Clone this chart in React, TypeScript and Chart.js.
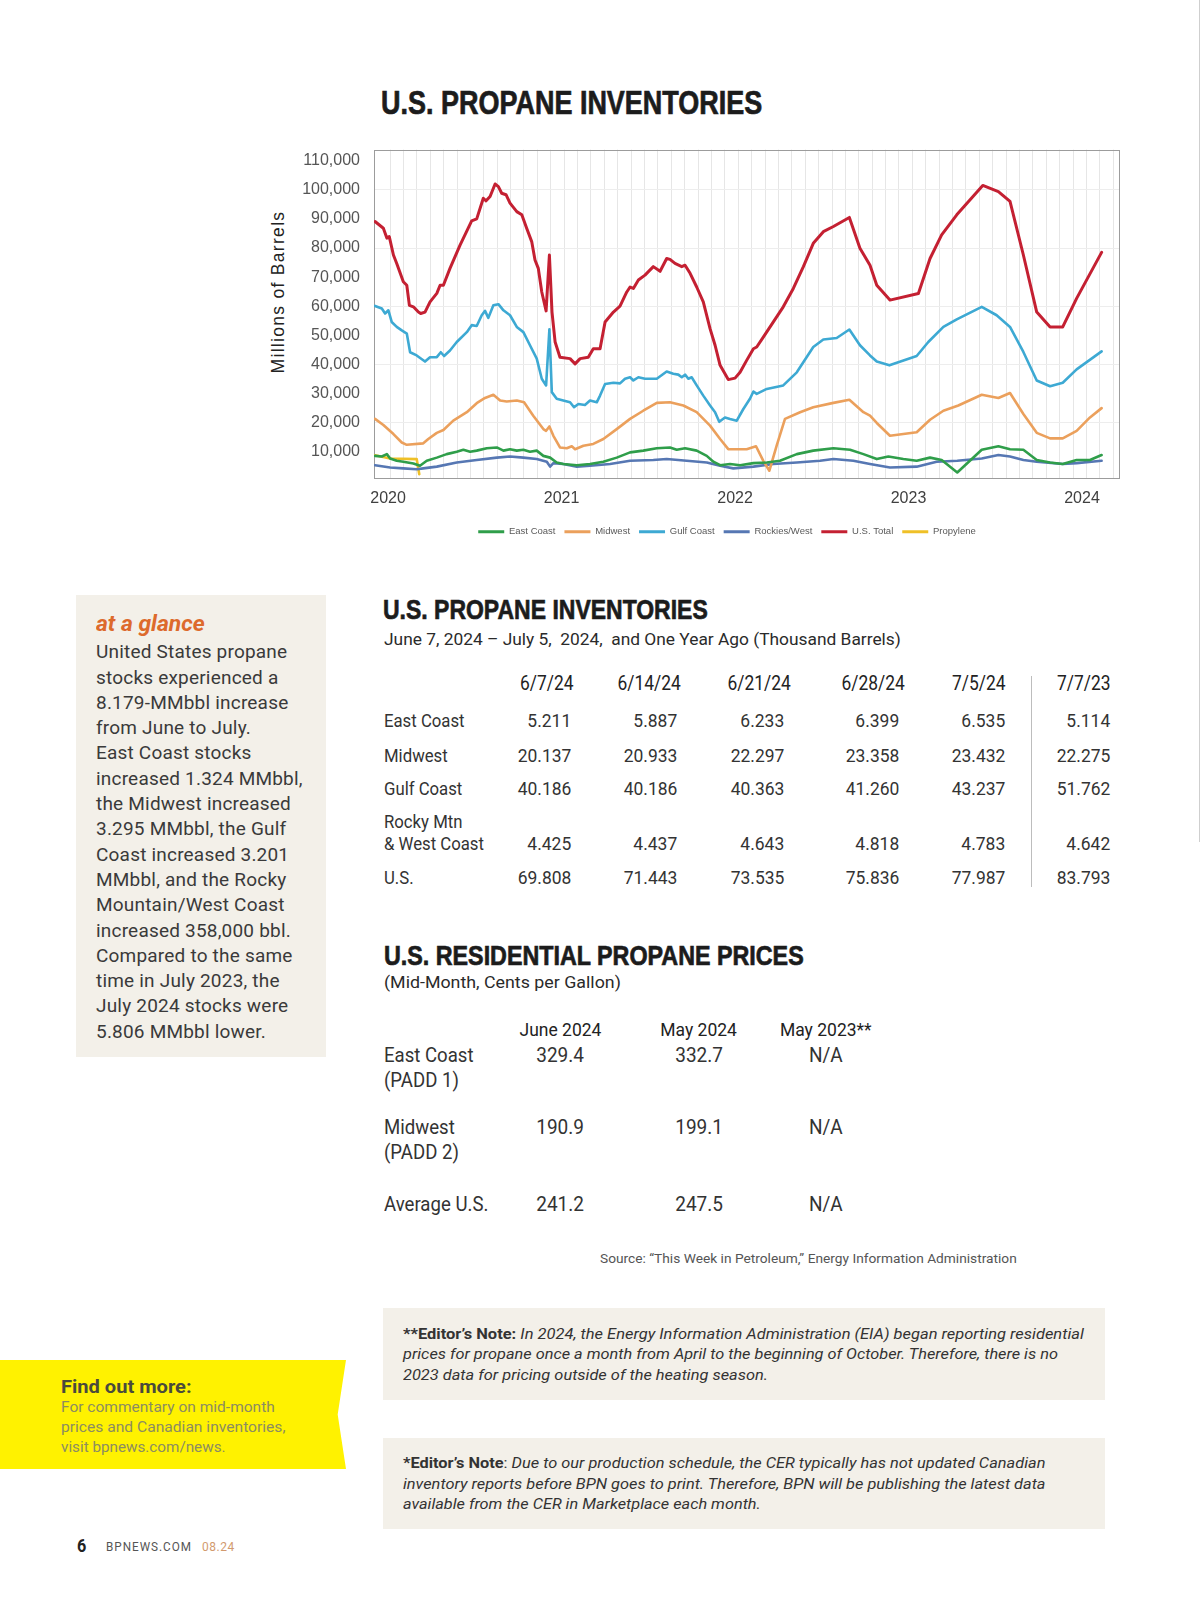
import React, { useEffect, useLayoutEffect, useRef, useState } from 'react';
import { Chart, registerables } from 'chart.js';
Chart.register(...registerables);

// ---------- chart data (decimal years, thousand barrels) ----------
const seriesNames = ['East Coast', 'Midwest', 'Gulf Coast', 'Rockies/West', 'U.S. Total', 'Propylene'];
const seriesColors = ['#2F9E4A', '#EBA05C', '#3DA9D3', '#5677B3', '#C42032', '#EFC027'];
const yearLabels = [2020, 2021, 2022, 2023, 2024];
const yTickValues = [10000, 20000, 30000, 40000, 50000, 60000, 70000, 80000, 90000, 100000, 110000];

const eastX = [2019.925, 2019.964, 2019.993, 2020.012, 2020.05, 2020.088, 2020.146, 2020.184, 2020.223, 2020.281, 2020.338, 2020.396, 2020.434, 2020.473, 2020.511, 2020.569, 2020.627, 2020.665, 2020.703, 2020.742, 2020.78, 2020.818, 2020.857, 2020.895, 2020.934, 2020.972, 2021.01, 2021.088, 2021.164, 2021.241, 2021.318, 2021.395, 2021.471, 2021.549, 2021.625, 2021.664, 2021.712, 2021.779, 2021.837, 2021.875, 2021.914, 2021.971, 2022.029, 2022.106, 2022.183, 2022.259, 2022.356, 2022.451, 2022.567, 2022.663, 2022.74, 2022.817, 2022.884, 2022.97, 2023.047, 2023.124, 2023.191, 2023.281, 2023.422, 2023.518, 2023.585, 2023.662, 2023.739, 2023.816, 2023.889, 2023.969, 2024.046, 2024.113];
const eastY = [8600, 8400, 9200, 7700, 6900, 6600, 6000, 5200, 6900, 8000, 9200, 10000, 10700, 10000, 10400, 11200, 11500, 10400, 10900, 10400, 10700, 10000, 10400, 8600, 8000, 6300, 5800, 5400, 5800, 6600, 8000, 9800, 10400, 11200, 11500, 10700, 11200, 10400, 8600, 6600, 5400, 5800, 5400, 6100, 6300, 6900, 9200, 10400, 11200, 10700, 9200, 7500, 8400, 7500, 6900, 8000, 7200, 2900, 10700, 11900, 10900, 10700, 7200, 6300, 5800, 7200, 7200, 8900];

const midX = [2019.925, 2019.973, 2020.031, 2020.079, 2020.108, 2020.203, 2020.232, 2020.281, 2020.319, 2020.376, 2020.454, 2020.511, 2020.559, 2020.607, 2020.646, 2020.684, 2020.742, 2020.784, 2020.837, 2020.895, 2020.911, 2020.93, 2020.953, 2020.991, 2021.03, 2021.059, 2021.078, 2021.126, 2021.183, 2021.241, 2021.318, 2021.395, 2021.471, 2021.549, 2021.625, 2021.702, 2021.779, 2021.856, 2021.914, 2021.961, 2022.029, 2022.067, 2022.121, 2022.163, 2022.198, 2022.24, 2022.288, 2022.375, 2022.451, 2022.567, 2022.659, 2022.74, 2022.778, 2022.817, 2022.893, 2023.047, 2023.124, 2023.201, 2023.287, 2023.422, 2023.518, 2023.585, 2023.662, 2023.739, 2023.816, 2023.889, 2023.969, 2024.046, 2024.113];
const midY = [21300, 19200, 16100, 13200, 12400, 12900, 14400, 16500, 17500, 20700, 23600, 26700, 28500, 29600, 27600, 27300, 27600, 27000, 22400, 17800, 17200, 18700, 15500, 11500, 11200, 11900, 10900, 12100, 12700, 14400, 17800, 21300, 24100, 26800, 27000, 25900, 23600, 19000, 14400, 10900, 10900, 10900, 11900, 6900, 3500, 12100, 21300, 23600, 25300, 26800, 27900, 23600, 22400, 19900, 15500, 16700, 21000, 24100, 25900, 29600, 28500, 30200, 23000, 16500, 14600, 14600, 17200, 21800, 25000];

const gulfX = [2019.925, 2019.964, 2019.983, 2020.002, 2020.021, 2020.05, 2020.079, 2020.108, 2020.127, 2020.165, 2020.213, 2020.242, 2020.281, 2020.304, 2020.323, 2020.357, 2020.396, 2020.454, 2020.482, 2020.511, 2020.54, 2020.559, 2020.578, 2020.607, 2020.636, 2020.665, 2020.703, 2020.742, 2020.78, 2020.818, 2020.857, 2020.886, 2020.911, 2020.93, 2020.944, 2020.972, 2021.01, 2021.049, 2021.072, 2021.097, 2021.135, 2021.164, 2021.203, 2021.222, 2021.251, 2021.299, 2021.337, 2021.366, 2021.395, 2021.414, 2021.443, 2021.481, 2021.549, 2021.606, 2021.644, 2021.673, 2021.693, 2021.712, 2021.731, 2021.75, 2021.779, 2021.817, 2021.856, 2021.885, 2021.909, 2021.942, 2021.971, 2022.01, 2022.048, 2022.086, 2022.106, 2022.125, 2022.183, 2022.278, 2022.356, 2022.451, 2022.509, 2022.586, 2022.659, 2022.72, 2022.778, 2022.817, 2022.89, 2023.047, 2023.114, 2023.201, 2023.278, 2023.422, 2023.508, 2023.585, 2023.662, 2023.739, 2023.816, 2023.889, 2023.969, 2024.113];
const gulfY = [60100, 59200, 57500, 58600, 54600, 52900, 51700, 50600, 44200, 43100, 41000, 42500, 42500, 44200, 42900, 44800, 47700, 51100, 53500, 53200, 56900, 58400, 56000, 60300, 60700, 58600, 56900, 52900, 51100, 46600, 42000, 35100, 32800, 52100, 30500, 28200, 27600, 27000, 25300, 26400, 26100, 27600, 27000, 29300, 33300, 33700, 33500, 35100, 35600, 34500, 35600, 35100, 35100, 37600, 36800, 36500, 35600, 36500, 35100, 35600, 32800, 29300, 25900, 23600, 20300, 21800, 21300, 20700, 24700, 28200, 30700, 29900, 31600, 32800, 37300, 46000, 48600, 49100, 52000, 46600, 43100, 41000, 39700, 42900, 47700, 52900, 55500, 59800, 56900, 52900, 44300, 34500, 32500, 33700, 38300, 44500];

const rockX = [2019.925, 2020.012, 2020.088, 2020.165, 2020.203, 2020.281, 2020.396, 2020.511, 2020.627, 2020.703, 2020.78, 2020.857, 2020.915, 2020.934, 2020.953, 2021.01, 2021.088, 2021.164, 2021.28, 2021.395, 2021.529, 2021.606, 2021.722, 2021.837, 2021.914, 2021.99, 2022.106, 2022.221, 2022.356, 2022.49, 2022.567, 2022.682, 2022.778, 2022.893, 2023.047, 2023.162, 2023.281, 2023.422, 2023.518, 2023.585, 2023.662, 2023.739, 2023.889, 2023.969, 2024.113];
const rockY = [5400, 4600, 4300, 4000, 4300, 4900, 6300, 7200, 8000, 8400, 8000, 7500, 6600, 4900, 6100, 5800, 4900, 5200, 5800, 6900, 7200, 7500, 6900, 6300, 5200, 4300, 4900, 5800, 6300, 6900, 7500, 6900, 5800, 4600, 4900, 6600, 6900, 7700, 8900, 8400, 7200, 6600, 5800, 6100, 6900];

const totalX = [2019.925, 2019.973, 2019.993, 2020.007, 2020.031, 2020.05, 2020.088, 2020.108, 2020.123, 2020.146, 2020.175, 2020.188, 2020.213, 2020.242, 2020.281, 2020.3, 2020.319, 2020.357, 2020.415, 2020.482, 2020.511, 2020.549, 2020.565, 2020.588, 2020.617, 2020.636, 2020.655, 2020.68, 2020.703, 2020.742, 2020.771, 2020.799, 2020.828, 2020.847, 2020.866, 2020.886, 2020.911, 2020.93, 2020.945, 2020.963, 2020.991, 2021.049, 2021.078, 2021.107, 2021.154, 2021.183, 2021.222, 2021.251, 2021.299, 2021.337, 2021.376, 2021.395, 2021.414, 2021.443, 2021.481, 2021.529, 2021.568, 2021.606, 2021.625, 2021.654, 2021.693, 2021.712, 2021.741, 2021.779, 2021.817, 2021.856, 2021.885, 2021.914, 2021.961, 2022.0, 2022.029, 2022.067, 2022.106, 2022.125, 2022.163, 2022.278, 2022.336, 2022.394, 2022.451, 2022.509, 2022.567, 2022.659, 2022.72, 2022.778, 2022.817, 2022.893, 2023.057, 2023.124, 2023.191, 2023.278, 2023.428, 2023.518, 2023.585, 2023.662, 2023.739, 2023.816, 2023.889, 2023.969, 2024.113];
const totalY = [89100, 86800, 83400, 83900, 77600, 74700, 68400, 67200, 60300, 59800, 58000, 57500, 58000, 61500, 64400, 67200, 67200, 73000, 81000, 89300, 90000, 97100, 96200, 97700, 102000, 101100, 98800, 98300, 95400, 92500, 91400, 86800, 82200, 75900, 73000, 64900, 58400, 77600, 58000, 47700, 42500, 42000, 40200, 42000, 42500, 45400, 45400, 54600, 58000, 60000, 64900, 66600, 66100, 69000, 70700, 73600, 72000, 76400, 76100, 74700, 73600, 74100, 71300, 66600, 61500, 52300, 46600, 39700, 34800, 35300, 37300, 41400, 45400, 46000, 49400, 59800, 66100, 73600, 81600, 85600, 87400, 90500, 79900, 74100, 67200, 62100, 64400, 76400, 84500, 91400, 101500, 99400, 96000, 77600, 58000, 52900, 52900, 62700, 78500];

const propyX = [2019.925, 2020.012, 2020.165, 2020.18];
const propyY = [8800, 7700, 7500, 2300];

const xMin = 2019.919;
const xMax = 2024.219;
const yMin = 1000;
const yMax = 113800;
const gridStart = 2020.0115;
const gridStep = 0.0772;

// ---------- table data ----------
const invDates = ['6/7/24', '6/14/24', '6/21/24', '6/28/24', '7/5/24', '7/7/23'];
const invRegions = ['East Coast', 'Midwest', 'Gulf Coast', 'Rocky Mtn|& West Coast', 'U.S.'];
const invEastCoast = ['5.211', '5.887', '6.233', '6.399', '6.535', '5.114'];
const invMidwest = ['20.137', '20.933', '22.297', '23.358', '23.432', '22.275'];
const invGulfCoast = ['40.186', '40.186', '40.363', '41.260', '43.237', '51.762'];
const invRockyWest = ['4.425', '4.437', '4.643', '4.818', '4.783', '4.642'];
const invUS = ['69.808', '71.443', '73.535', '75.836', '77.987', '83.793'];

const priceCols = ['June 2024', 'May 2024', 'May 2023**'];
const priceEast = ['329.4', '332.7', 'N/A'];
const priceMidwest = ['190.9', '199.1', 'N/A'];
const priceAvg = ['241.2', '247.5', 'N/A'];

const glanceLines = [
  'United States propane', 'stocks experienced a', '8.179-MMbbl increase', 'from June to July.',
  'East Coast stocks', 'increased 1.324 MMbbl,', 'the Midwest increased', '3.295 MMbbl, the Gulf',
  'Coast increased 3.201', 'MMbbl, and the Rocky', 'Mountain/West Coast', 'increased 358,000 bbl.',
  'Compared to the same', 'time in July 2023, the', 'July 2024 stocks were', '5.806 MMbbl lower.',
];

type TP = {
  x: number; y: number; fs: number; w?: number; sx?: number; align?: 'left' | 'right' | 'center';
  weight?: number | string; italic?: boolean; color?: string; family?: string; ls?: number; stroke?: number; children: React.ReactNode;
};

function T({ x, y, fs, w, sx, align = 'left', weight = 400, italic = false, color = '#333', family = 'Roboto', ls = 0, stroke = 0, children }: TP) {
  const ref = useRef<HTMLSpanElement>(null);
  const [scale, setScale] = useState(sx ?? 1);
  useLayoutEffect(() => {
    const measure = () => {
      if (w && ref.current) {
        const nat = ref.current.offsetWidth;
        if (nat > 0) setScale(w / nat);
      }
    };
    measure();
    if ((document as any).fonts && (document as any).fonts.ready) (document as any).fonts.ready.then(measure);
  }, [w]);
  const outer: React.CSSProperties = {
    position: 'absolute', top: y - fs / 2, whiteSpace: 'nowrap', fontSize: fs, lineHeight: fs + 'px',
    fontFamily: family, fontWeight: weight as any, fontStyle: italic ? 'italic' : 'normal', color, letterSpacing: ls,
  };
  if (stroke) (outer as any).WebkitTextStroke = `${stroke}px ${color}`;
  let origin = 'left center';
  if (align === 'left') outer.left = x;
  else if (align === 'right') { outer.right = 1200 - x; outer.textAlign = 'right'; origin = 'right center'; }
  else { outer.left = x - 400; outer.width = 800; outer.textAlign = 'center'; origin = 'center center'; }
  return (
    <div style={outer}>
      <span ref={ref} style={{ display: 'inline-block', transform: `scaleX(${scale})`, transformOrigin: origin }}>{children}</span>
    </div>
  );
}

const plotBorder = {
  id: 'plotBorder',
  beforeDatasetsDraw(chart: any) {
    const { ctx, chartArea: a } = chart;
    ctx.save();
    ctx.strokeStyle = '#9c9c9c';
    ctx.lineWidth = 1;
    ctx.strokeRect(Math.round(a.left) + 0.5, Math.round(a.top) + 0.5, Math.round(a.right - a.left) - 1, Math.round(a.bottom - a.top));
    ctx.restore();
  },
};

function PropaneChart() {
  const ref = useRef<HTMLCanvasElement>(null);
  useEffect(() => {
    if (!ref.current) return;
    const mk = (xs: number[], ys: number[]) => xs.map((x, i) => ({ x, y: ys[i] }));
    const pairs = [[eastX, eastY], [midX, midY], [gulfX, gulfY], [rockX, rockY], [totalX, totalY], [propyX, propyY]];
    const datasets = pairs.map((p, i) => ({
      label: seriesNames[i],
      data: mk(p[0] as number[], p[1] as number[]),
      borderColor: seriesColors[i],
      backgroundColor: seriesColors[i],
      borderWidth: i === 4 ? 3 : 2.6,
      pointRadius: 0,
      tension: 0,
      yAxisID: 'y',
      borderJoinStyle: 'round' as const,
      borderCapStyle: 'round' as const,
    }));
    const chart = new Chart(ref.current, {
      type: 'line',
      data: { datasets },
      plugins: [plotBorder],
      options: {
        animation: false,
        responsive: false,
        devicePixelRatio: 1,
        layout: { padding: { left: 3, right: 4, top: 0, bottom: 8.5 } },
        plugins: {
          tooltip: { enabled: false },
          legend: {
            position: 'bottom',
            labels: {
              boxWidth: 26,
              boxHeight: 3,
              padding: 9,
              color: '#595959',
              font: { family: 'Liberation Sans', size: 9.5 },
              generateLabels: (c: any) => (Chart.defaults.plugins.legend.labels.generateLabels as any)(c).map((l: any) => ({ ...l, lineWidth: 0 })),
            },
          },
        },
        scales: {
          x: {
            type: 'linear',
            min: xMin,
            max: xMax,
            afterBuildTicks: (s: any) => {
              const t: any[] = yearLabels.map((v) => ({ value: v }));
              for (let g = gridStart; g < xMax - 0.01; g += gridStep) t.push({ value: g });
              t.sort((a, b) => a.value - b.value);
              s.ticks = t;
            },
            afterFit: (s: any) => { s.height = 40; },
            ticks: {
              autoSkip: false,
              maxRotation: 0,
              padding: 11,
              color: '#404040',
              font: { family: 'Liberation Sans', size: 16 },
              callback: (v: any) => (yearLabels.includes(v) ? String(v) : ''),
            },
            grid: {
              drawTicks: false,
              color: (ctx: any) => (ctx.tick && yearLabels.includes(ctx.tick.value) ? 'rgba(0,0,0,0)' : '#e6e6e6'),
            },
            border: { display: false },
          },
          y: {
            type: 'linear',
            position: 'left',
            min: yMin,
            max: yMax,
            afterBuildTicks: (s: any) => { s.ticks = yTickValues.map((v) => ({ value: v })); },
            afterFit: (s: any) => { s.width = 71; },
            ticks: {
              padding: 14,
              color: '#555',
              font: { family: 'Liberation Sans', size: 16 },
              callback: (v: any) => Number(v).toLocaleString('en-US'),
            },
            grid: {
              drawTicks: false,
              color: (ctx: any) => (ctx.tick && ctx.tick.value % 20000 === 0 ? '#ededed' : 'rgba(0,0,0,0)'),
            },
            border: { display: false },
          },
          ySpace: {
            axis: 'y',
            type: 'linear',
            position: 'right',
            min: 0,
            max: 1,
            afterFit: (s: any) => { s.width = 31; },
            ticks: { display: false },
            grid: { display: false, drawTicks: false },
            border: { display: false },
          },
        },
      } as any,
    });
    return () => chart.destroy();
  }, []);
  return <canvas ref={ref} width={855} height={429} style={{ position: 'absolute', left: 300, top: 126, width: 855, height: 429 }} />;
}

const invRows = [invEastCoast, invMidwest, invGulfCoast, invRockyWest, invUS];
const invRowY = [721, 755.5, 789, 844, 878];
const invColRight = [571, 677, 784, 899, 1005, 1110];
const invHeadRight = [573, 681, 791, 905, 1005, 1110];
const priceColCenter = [560, 699, 826];

export default function App() {
  const title = { family: 'Liberation Sans', weight: 700, color: '#1c1c1c', stroke: 0.7 };
  return (
    <div style={{ position: 'absolute', left: 0, top: 0, width: 1200, height: 1598, background: '#fff', overflow: 'hidden' }}>
      <div style={{ position: 'absolute', left: 1199, top: 0, width: 1, height: 842, background: '#cfcfcf' }} />

      {/* Chart section */}
      <T x={381} y={102} fs={33} w={381} {...title}>U.S. PROPANE INVENTORIES</T>
      <div style={{ position: 'absolute', left: 178, top: 283, width: 200, height: 18, lineHeight: '18px', fontSize: 17.5, fontFamily: 'Liberation Sans', color: '#222', textAlign: 'center', letterSpacing: 1.3, whiteSpace: 'nowrap', transform: 'rotate(-90deg)', transformOrigin: 'center center' }}>Millions of Barrels</div>
      <PropaneChart />

      {/* At a glance */}
      <div style={{ position: 'absolute', left: 76, top: 595, width: 250, height: 462, background: '#F3F0E9' }} />
      <T x={96} y={624} fs={22} w={109} weight={700} italic color="#DD6A2C">at a glance</T>
      {glanceLines.map((l, i) => (
        <T key={i} x={96} y={651.7 + i * 25.3} fs={19} color="#3a3a3a" ls={0.2}>{l}</T>
      ))}

      {/* Inventories table */}
      <T x={383} y={610} fs={28} w={325} {...title}>U.S. PROPANE INVENTORIES</T>
      <T x={384} y={640} fs={16} w={517} color="#2a2a2a">June 7, 2024 – July 5,&nbsp; 2024,&nbsp; and One Year Ago (Thousand Barrels)</T>
      {invDates.map((d, i) => (
        <T key={d} x={invHeadRight[i]} y={683} fs={20} sx={0.87} align="right" color="#222">{d}</T>
      ))}
      <div style={{ position: 'absolute', left: 1031, top: 676, width: 1, height: 211, background: '#bdbdbd' }} />
      {invRegions.map((r, ri) => (
        <React.Fragment key={r}>
          {r.includes('|') ? (
            <>
              <T x={384} y={822} fs={18} sx={0.93} color="#333">{r.split('|')[0]}</T>
              <T x={384} y={844} fs={18} sx={0.93} color="#333">{r.split('|')[1]}</T>
            </>
          ) : (
            <T x={384} y={invRowY[ri]} fs={18} sx={0.93} color="#333">{r}</T>
          )}
          {invRows[ri].map((v, ci) => (
            <T key={ci} x={invColRight[ci]} y={invRowY[ri]} fs={18} sx={0.97} align="right" color="#333">{v}</T>
          ))}
        </React.Fragment>
      ))}

      {/* Prices table */}
      <T x={384} y={956} fs={28} w={420} {...title}>U.S. RESIDENTIAL PROPANE PRICES</T>
      <T x={384} y={983} fs={16} w={237} color="#2a2a2a">(Mid-Month, Cents per Gallon)</T>
      {priceCols.map((c, i) => (
        <T key={c} x={priceColCenter[i]} y={1029} fs={19} sx={0.92} align="center" color="#222">{c}</T>
      ))}
      <T x={384} y={1055} fs={20} sx={0.93} color="#333">East Coast</T>
      <T x={384} y={1080} fs={20} sx={0.93} color="#333">(PADD 1)</T>
      <T x={384} y={1126.5} fs={20} sx={0.93} color="#333">Midwest</T>
      <T x={384} y={1152} fs={20} sx={0.93} color="#333">(PADD 2)</T>
      <T x={384} y={1204} fs={20} sx={0.93} color="#333">Average U.S.</T>
      {[priceEast, priceMidwest, priceAvg].map((row, ri) =>
        row.map((v, ci) => (
          <T key={ri + '-' + ci} x={priceColCenter[ci]} y={[1055, 1126.5, 1204][ri]} fs={20} sx={0.95} align="center" color="#333">{v}</T>
        ))
      )}
      <T x={600} y={1258} fs={13} w={417} color="#555">Source: “This Week in Petroleum,” Energy Information Administration</T>

      {/* Find out more */}
      <div style={{ position: 'absolute', left: 0, top: 1360, width: 346, height: 109, background: '#FFF200', clipPath: 'polygon(0 0, 100% 0, 97.6% 50%, 100% 100%, 0 100%)' }} />
      <T x={61} y={1386} fs={19} w={131} weight={700} color="#4a4a3c">Find out more:</T>
      <T x={61} y={1408} fs={14.5} w={214} color="#8c8c62">For commentary on mid-month</T>
      <T x={61} y={1428} fs={14.5} w={225} color="#8c8c62">prices and Canadian inventories,</T>
      <T x={61} y={1448} fs={14.5} w={165} color="#8c8c62">visit bpnews.com/news.</T>

      {/* Editor's notes */}
      <div style={{ position: 'absolute', left: 383, top: 1308, width: 722, height: 92, background: '#F3F0E9' }} />
      <T x={403} y={1335} fs={14.5} w={681} color="#333"><b style={{ fontStyle: 'normal' }}>**Editor’s Note: </b><i>In 2024, the Energy Information Administration (EIA) began reporting residential</i></T>
      <T x={403} y={1355} fs={14.5} w={655} italic color="#333">prices for propane once a month from April to the beginning of October. Therefore, there is no</T>
      <T x={403} y={1376} fs={14.5} w={365} italic color="#333">2023 data for pricing outside of the heating season.</T>

      <div style={{ position: 'absolute', left: 383, top: 1438, width: 722, height: 91, background: '#F3F0E9' }} />
      <T x={403} y={1464} fs={14.5} w={642} color="#333"><b style={{ fontStyle: 'normal' }}>*Editor’s Note</b>: <i>Due to our production schedule, the CER typically has not updated Canadian</i></T>
      <T x={403} y={1485} fs={14.5} w={642} italic color="#333">inventory reports before BPN goes to print. Therefore, BPN will be publishing the latest data</T>
      <T x={403} y={1505} fs={14.5} w={358} italic color="#333">available from the CER in Marketplace each month.</T>

      {/* Footer */}
      <T x={77} y={1546} fs={18} w={9} weight={700} color="#222">6</T>
      <T x={106} y={1547} fs={12} w={86} color="#555" ls={1}>BPNEWS.COM</T>
      <T x={202} y={1547} fs={12} w={33} color="#D29A6E" ls={0.5}>08.24</T>
    </div>
  );
}
